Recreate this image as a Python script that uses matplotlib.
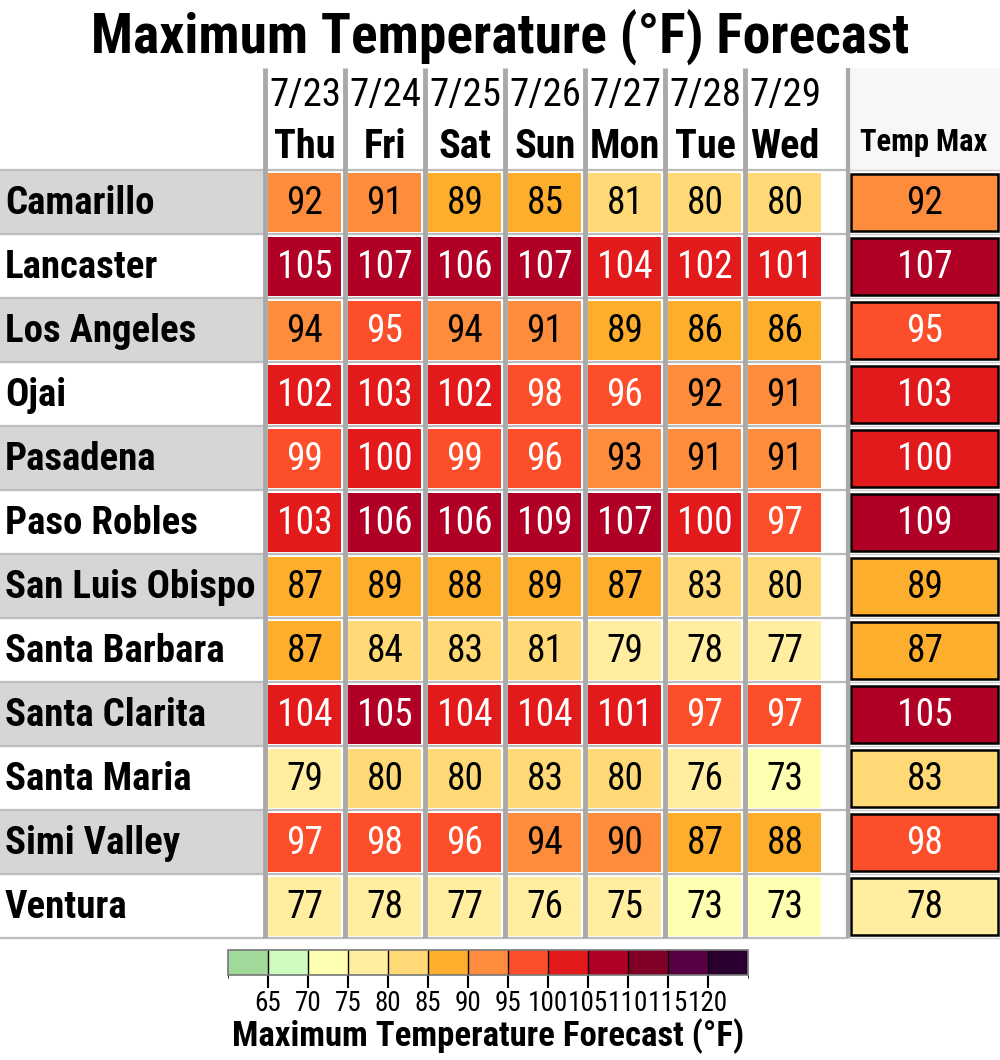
import matplotlib
matplotlib.use("Agg")
import matplotlib.pyplot as plt
import matplotlib.font_manager as fm
from matplotlib.patches import Rectangle
from matplotlib.colors import ListedColormap, BoundaryNorm
from matplotlib.cm import ScalarMappable

# pick a (preferably condensed) font that is installed
avail = {f.name for f in fm.fontManager.ttflist}
FONT = next(f for f in ["Roboto Condensed", "Liberation Sans Narrow", "Roboto", "DejaVu Sans"] if f in avail)
plt.rcParams["font.family"] = FONT

# ---- data ----
cities = ["Camarillo", "Lancaster", "Los Angeles", "Ojai", "Pasadena", "Paso Robles",
          "San Luis Obispo", "Santa Barbara", "Santa Clarita", "Santa Maria",
          "Simi Valley", "Ventura"]
dates = ["7/23", "7/24", "7/25", "7/26", "7/27", "7/28", "7/29"]
days = ["Thu", "Fri", "Sat", "Sun", "Mon", "Tue", "Wed"]
temps = [
    [92, 91, 89, 85, 81, 80, 80],
    [105, 107, 106, 107, 104, 102, 101],
    [94, 95, 94, 91, 89, 86, 86],
    [102, 103, 102, 98, 96, 92, 91],
    [99, 100, 99, 96, 93, 91, 91],
    [103, 106, 106, 109, 107, 100, 97],
    [87, 89, 88, 89, 87, 83, 80],
    [87, 84, 83, 81, 79, 78, 77],
    [104, 105, 104, 104, 101, 97, 97],
    [79, 80, 80, 83, 80, 76, 73],
    [97, 98, 96, 94, 90, 87, 88],
    [77, 78, 77, 76, 75, 73, 73],
]
temp_max = [92, 107, 95, 103, 100, 109, 89, 87, 105, 83, 98, 78]
bounds = [60, 65, 70, 75, 80, 85, 90, 95, 100, 105, 110, 115, 120, 125]
bin_colors = ["#a1d99b", "#cefcbe", "#ffffb2", "#ffeda0", "#fed976", "#fdae2d",
              "#fd8d3c", "#fc4e2a", "#e31a1c", "#b10026", "#800026", "#5a0044", "#2a0030"]

cmap = ListedColormap(bin_colors)
norm = BoundaryNorm(bounds, cmap.N)

# ---- layout (pixels) ----
W, H = 1000, 1060
LBL_W = 263      # label column width
COL_W = 80       # day column width
TOP = 170        # first table row
ROW_H = 64
HEAD_TOP = 68
GAP_W = 25
MAX_X = LBL_W + COL_W * len(days) + GAP_W
MAX_W = W - MAX_X
SEP = "#a9a9a9"

fig = plt.figure(figsize=(W / 100, H / 100), dpi=100)
ax = fig.add_axes([0, 0, 1, 1])
ax.set_xlim(0, W)
ax.set_ylim(H, 0)
ax.axis("off")

fig.text(0.5, 1 - 38 / H, "Maximum Temperature (°F) Forecast", ha="center", va="center",
         fontsize=40, fontweight="bold")

nrows = len(cities)
bottom = TOP + ROW_H * nrows

# Temp Max header
ax.add_patch(Rectangle((MAX_X, HEAD_TOP), MAX_W, TOP - HEAD_TOP, color="#f7f7f7", lw=0))
ax.text(MAX_X + MAX_W / 2, 142, "Temp Max", ha="center", va="center", fontsize=22,
        fontweight="bold")

for j, (d, dn) in enumerate(zip(dates, days)):
    cx = LBL_W + COL_W * j + COL_W / 2 + 2
    ax.text(cx, 96, d, ha="center", va="center", fontsize=28)
    ax.text(cx, 147, dn, ha="center", va="center", fontsize=29, fontweight="bold")

for i, city in enumerate(cities):
    y0 = TOP + ROW_H * i
    # label cell
    bg = "#d6d6d6" if i % 2 == 0 else "white"
    ax.add_patch(Rectangle((0, y0), LBL_W, ROW_H, color=bg, lw=0))
    ax.text(5, y0 + ROW_H / 2 + 2, city, ha="left", va="center", fontsize=28,
            fontweight="bold")
    # day cells
    for j, v in enumerate(temps[i]):
        x0 = LBL_W + COL_W * j
        ax.add_patch(Rectangle((x0 + 5, y0 + 3), COL_W - 7, ROW_H - 5,
                               color=cmap(norm(v)), lw=0))
        ax.text(x0 + COL_W / 2 + 2, y0 + ROW_H / 2 + 2, str(v), ha="center", va="center",
                fontsize=27, color="white" if v >= 95 else "black")
    # max cell
    v = temp_max[i]
    ax.add_patch(Rectangle((MAX_X + 3, y0 + 4), MAX_W - 5, ROW_H - 7,
                           facecolor=cmap(norm(v)), edgecolor="black", lw=1.8))
    ax.text(MAX_X + MAX_W / 2 + 1, y0 + ROW_H / 2 + 1, str(v), ha="center", va="center",
            fontsize=27, color="white" if v >= 95 else "black")

# row separators
for i in range(nrows + 1):
    y = TOP + ROW_H * i
    ax.plot([0, MAX_X], [y, y], color="#bdbdbd", lw=1.6, solid_capstyle="butt")
    ax.plot([MAX_X, W], [y, y], color="#cfcfcf", lw=1.0, solid_capstyle="butt")

# column separators
for j in range(len(days)):
    x = LBL_W + COL_W * j + 2
    ax.plot([x, x], [HEAD_TOP, bottom], color=SEP, lw=3.5, solid_capstyle="butt")
ax.plot([MAX_X, MAX_X], [HEAD_TOP, bottom], color=SEP, lw=3.0, solid_capstyle="butt")

# ---- colorbar ----
cax = fig.add_axes([228 / W, 1 - 975 / H, 520 / W, 25 / H])
cb = fig.colorbar(ScalarMappable(norm=norm, cmap=cmap), cax=cax, orientation="horizontal",
                  ticks=bounds[1:-1], drawedges=True)
cb.outline.set_edgecolor("#777777")
cb.outline.set_linewidth(1.2)
cb.dividers.set_color("black")
cb.dividers.set_linewidth(1.0)
cax.tick_params(length=9, width=1.5, labelsize=19.5, pad=2)
cb.set_label("Maximum Temperature Forecast (°F)", fontsize=25, fontweight="bold", labelpad=1)

fig.savefig("out.png", dpi=100)
